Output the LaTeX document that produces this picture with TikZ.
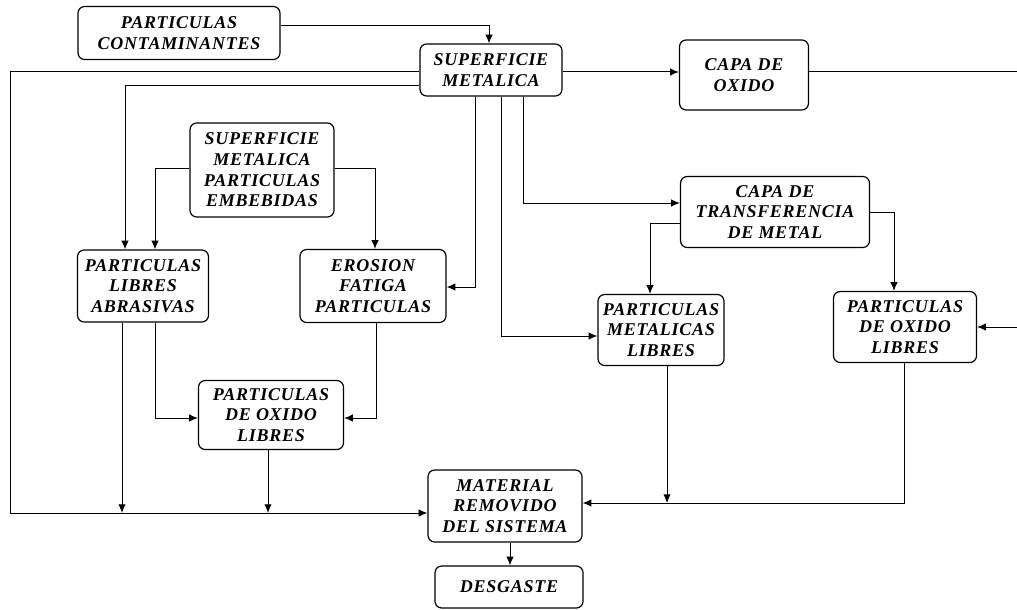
\documentclass[tikz,border=0pt]{standalone}
\usepackage{fontspec}
\setmainfont{Liberation Serif}
\newfontfamily\lblfont[LetterSpace=4]{Liberation Serif}
\usetikzlibrary{arrows.meta}
\tikzset{
  box/.style={draw, line width=0.9pt, rounded corners=5pt, align=center, inner sep=0pt,
    font=\lblfont\bfseries\itshape\fontsize{13.5}{15.5}\selectfont},
  ln/.style={line width=0.75pt},
  arr/.style={ln, -{Latex[length=6.5pt,width=5.5pt]}}
}
\begin{document}
\begin{tikzpicture}[x=0.75pt,y=-0.75pt]
\useasboundingbox (0,0) rectangle (1017,610);
% boxes
\node[box, minimum width=151.5pt, minimum height=39.75pt] (cont) at (179,33) {PARTICULAS\\CONTAMINANTES};
\node[box, minimum width=106.5pt, minimum height=39pt] (sm) at (491,70) {SUPERFICIE\\METALICA};
\node[box, minimum width=96.75pt, minimum height=52.5pt] (co) at (744,75) {CAPA DE\\OXIDO};
\node[box, minimum width=108pt, minimum height=70.5pt] (sme) at (262,170) {SUPERFICIE\\METALICA\\PARTICULAS\\EMBEBIDAS};
\node[box, minimum width=98.25pt, minimum height=54pt] (pla) at (143,286) {PARTICULAS\\LIBRES\\ABRASIVAS};
\node[box, minimum width=109.5pt, minimum height=54.75pt] (efp) at (373,286) {EROSION\\FATIGA\\PARTICULAS};
\node[box, minimum width=141.75pt, minimum height=53.25pt] (ctm) at (775,212) {CAPA DE\\TRANSFERENCIA\\DE METAL};
\node[box, minimum width=94.5pt, minimum height=53.25pt] (pml) at (661,330) {PARTICULAS\\METALICAS\\LIBRES};
\node[box, minimum width=107.25pt, minimum height=53.25pt] (podr) at (905,327) {PARTICULAS\\DE OXIDO\\LIBRES};
\node[box, minimum width=108.75pt, minimum height=51.75pt] (podm) at (271,415) {PARTICULAS\\DE OXIDO\\LIBRES};
\node[box, minimum width=115.5pt, minimum height=54pt] (mat) at (505,506) {MATERIAL\\REMOVIDO\\DEL SISTEMA};
\node[box, minimum width=111pt, minimum height=31.5pt] (des) at (509,587) {DESGASTE};
% free ends and junctions
\coordinate (leftbus) at (10,513);
\coordinate (oxout) at (1017,72);
\coordinate (oxin) at (1017,327);
\coordinate (j1) at (122,513);
\coordinate (j2) at (268,513);
\coordinate (j3) at (667,503);
% connectors
\draw[arr] (cont.east |- 0,26) -| (489,0 |- sm.north);
\draw[arr] (sm.west |- 0,72) -| (leftbus) -- (mat.west |- 0,513);
\draw[arr] (sm.west |- 0,86) -| (125,0 |- pla.north);
\draw[arr] (sme.west |- 0,168) -| (155,0 |- pla.north);
\draw[arr] (sme.east |- 0,168) -| (375,0 |- efp.north);
\draw[arr] (475,0 |- sm.south) |- (efp.east |- 0,287);
\draw[arr] (501,0 |- sm.south) |- (pml.west |- 0,336);
\draw[arr] (523,0 |- sm.south) |- (ctm.west |- 0,203);
\draw[arr] (sm.east |- 0,72) -- (co.west |- 0,72);
\draw[ln] (co.east |- 0,72) -- (oxout);
\draw[arr] (oxin) -- (podr.east |- 0,327);
\draw[arr] (ctm.west |- 0,223) -| (650,0 |- pml.north);
\draw[arr] (ctm.east |- 0,212) -| (894,0 |- podr.north);
\draw[arr] (155,0 |- pla.south) |- (podm.west |- 0,418);
\draw[arr] (122,0 |- pla.south) -- (j1);
\draw[arr] (376,0 |- efp.south) |- (podm.east |- 0,418);
\draw[arr] (268,0 |- podm.south) -- (j2);
\draw[arr] (667,0 |- pml.south) -- (j3);
\draw[arr] (904,0 |- podr.south) |- (mat.east |- 0,503);
\draw[arr] (510,0 |- mat.south) -- (510,0 |- des.north);
\end{tikzpicture}
\end{document}
